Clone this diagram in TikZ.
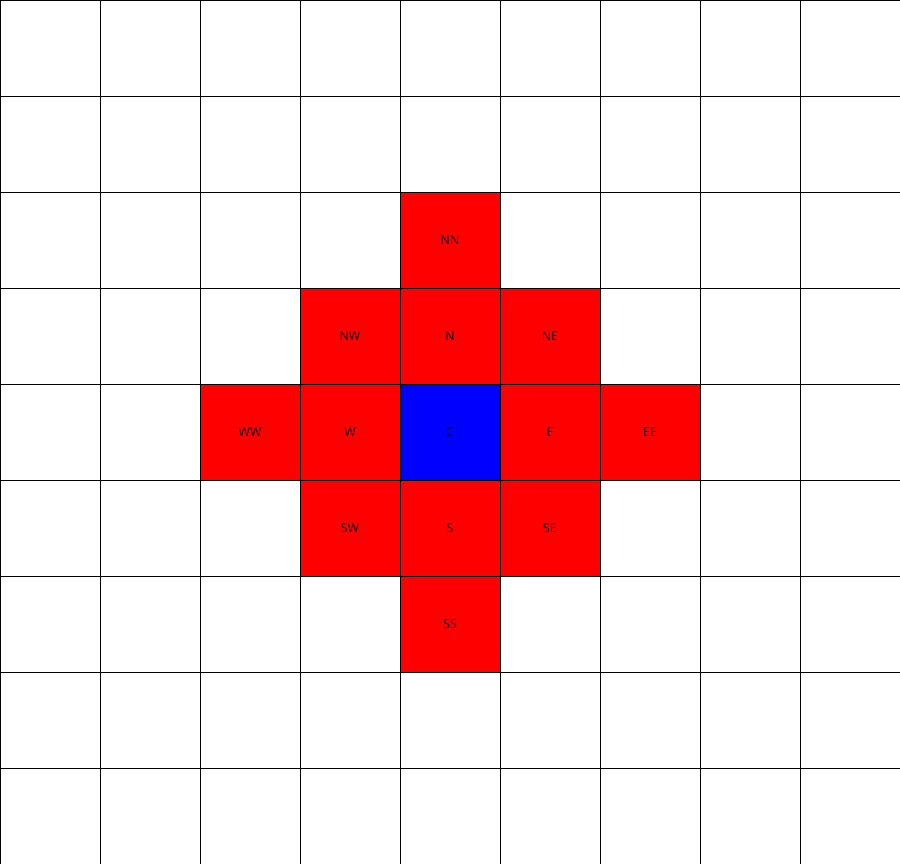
\documentclass[tikz,border=0pt]{standalone}
\usepackage{fontspec}
\setmainfont{Open Sans}
\begin{document}
\begin{tikzpicture}[x=3cm,y=-2.88cm,
  gridline/.style={black,line width=0.6pt},
  cell/.style={draw=black,line width=0.6pt,minimum width=3cm,minimum height=2.88cm,inner sep=0pt,outer sep=0pt,font=\fontsize{10.5}{12}\selectfont,text=black},
  redcell/.style={cell,fill=red},
  bluecell/.style={cell,fill=blue}]
\useasboundingbox (0,0) rectangle (9,9);
\fill[white] (0,0) rectangle (9,9);
\begin{scope}
\clip (0,0) rectangle (9,9);
\foreach \i in {1,...,8} {
  \draw[gridline] (\i,0) -- (\i,9);
  \draw[gridline] (0,\i) -- (9,\i);
}
\draw[gridline] (0.004,0) -- (0.004,9);
\draw[gridline] (0,0.004) -- (9,0.004);
\end{scope}
\node[redcell] (NN) at (4.5,2.5) {NN};
\node[redcell] (NW) at (3.5,3.5) {NW};
\node[redcell] (N) at (4.5,3.5) {N};
\node[redcell] (NE) at (5.5,3.5) {NE};
\node[redcell] (WW) at (2.5,4.5) {WW};
\node[redcell] (W) at (3.5,4.5) {W};
\node[bluecell] (C) at (4.5,4.5) {C};
\node[redcell] (E) at (5.5,4.5) {E};
\node[redcell] (EE) at (6.5,4.5) {EE};
\node[redcell] (SW) at (3.5,5.5) {SW};
\node[redcell] (S) at (4.5,5.5) {S};
\node[redcell] (SE) at (5.5,5.5) {SE};
\node[redcell] (SS) at (4.5,6.5) {SS};
\end{tikzpicture}
\end{document}
